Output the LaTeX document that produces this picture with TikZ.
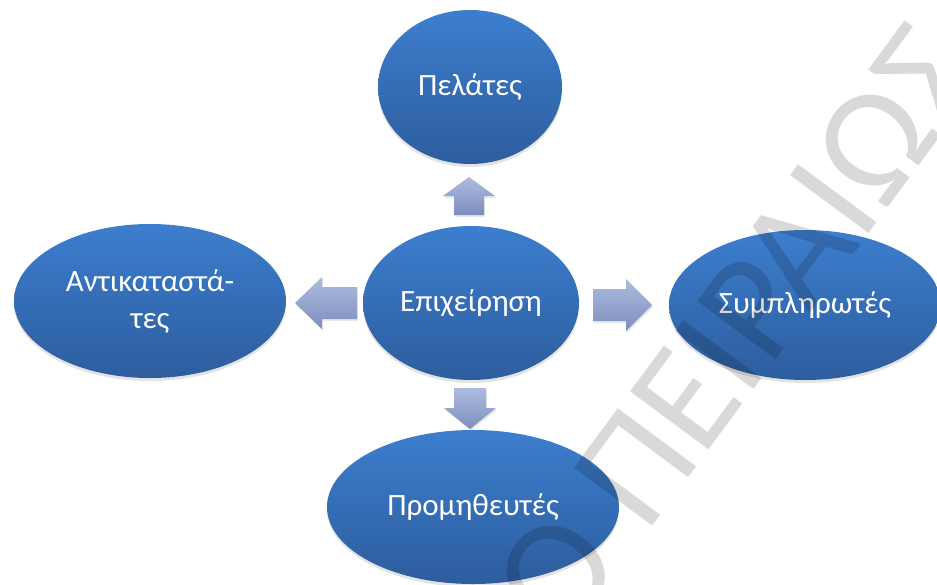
\documentclass[tikz,border=0pt]{standalone}
\usepackage{fontspec}
\setmainfont{Carlito}
\usetikzlibrary{shapes.geometric,shadows}
\definecolor{elltop}{RGB}{60,126,206}
\definecolor{ellbot}{RGB}{45,93,158}
\definecolor{arrtop}{RGB}{172,188,224}
\definecolor{arrbot}{RGB}{126,142,188}
\begin{document}
\begin{tikzpicture}[x=1pt,y=-1pt,
  bubble/.style={ellipse, inner sep=0pt, top color=elltop, bottom color=ellbot,
    draw=none, text=white, font=\fontsize{31}{37}\selectfont, align=center,
    drop shadow={opacity=0.22, shadow xshift=0pt, shadow yshift=-3pt}},
  blockarrow/.style={top color=arrtop, bottom color=arrbot, draw=none,
    drop shadow={opacity=0.18, shadow xshift=1pt, shadow yshift=-2pt}},
  watermark/.style={inner sep=0pt, anchor=base west, rotate=53.5,
    font=\fontsize{152}{152}\selectfont, text=black, text opacity=0.15}]
\useasboundingbox (0,0) rectangle (937,584);
\clip (0,0) rectangle (937,584);
% ellipses
\node[bubble, minimum width=184pt, minimum height=154pt] (pel) at (470,87) {Πελάτες};
\node[bubble, minimum width=216pt, minimum height=154pt] (epi) at (471,303) {Επιχείρηση};
\node[bubble, minimum width=272pt, minimum height=154pt] (ant) at (150,301) {Αντικαταστά-\\τες};
\node[bubble, minimum width=272pt, minimum height=150pt] (sym) at (805,305) {Συμπληρωτές};
\node[bubble, minimum width=292pt, minimum height=154pt] (pro) at (473,507) {Προμηθευτές};
% block arrows
\path[blockarrow] (454,215) -- (454,196) -- (443,196) -- (469,177) -- (495,196) -- (484,196) -- (484,215) -- cycle;
\path[blockarrow] (454,388) -- (486,388) -- (486,408) -- (496,408) -- (470,429) -- (444,408) -- (454,408) -- cycle;
\path[blockarrow] (593,289) -- (626,289) -- (626,279) -- (652,305) -- (626,331) -- (626,321) -- (593,321) -- cycle;
\path[blockarrow] (357,287) -- (322,287) -- (322,277) -- (295,303) -- (322,329) -- (322,319) -- (357,319) -- cycle;
% watermark
\node[watermark] (wm) at (646,535) {\llap{Ο\ }ΠΕΙΡΑΙΩΣ};
\end{tikzpicture}
\end{document}
